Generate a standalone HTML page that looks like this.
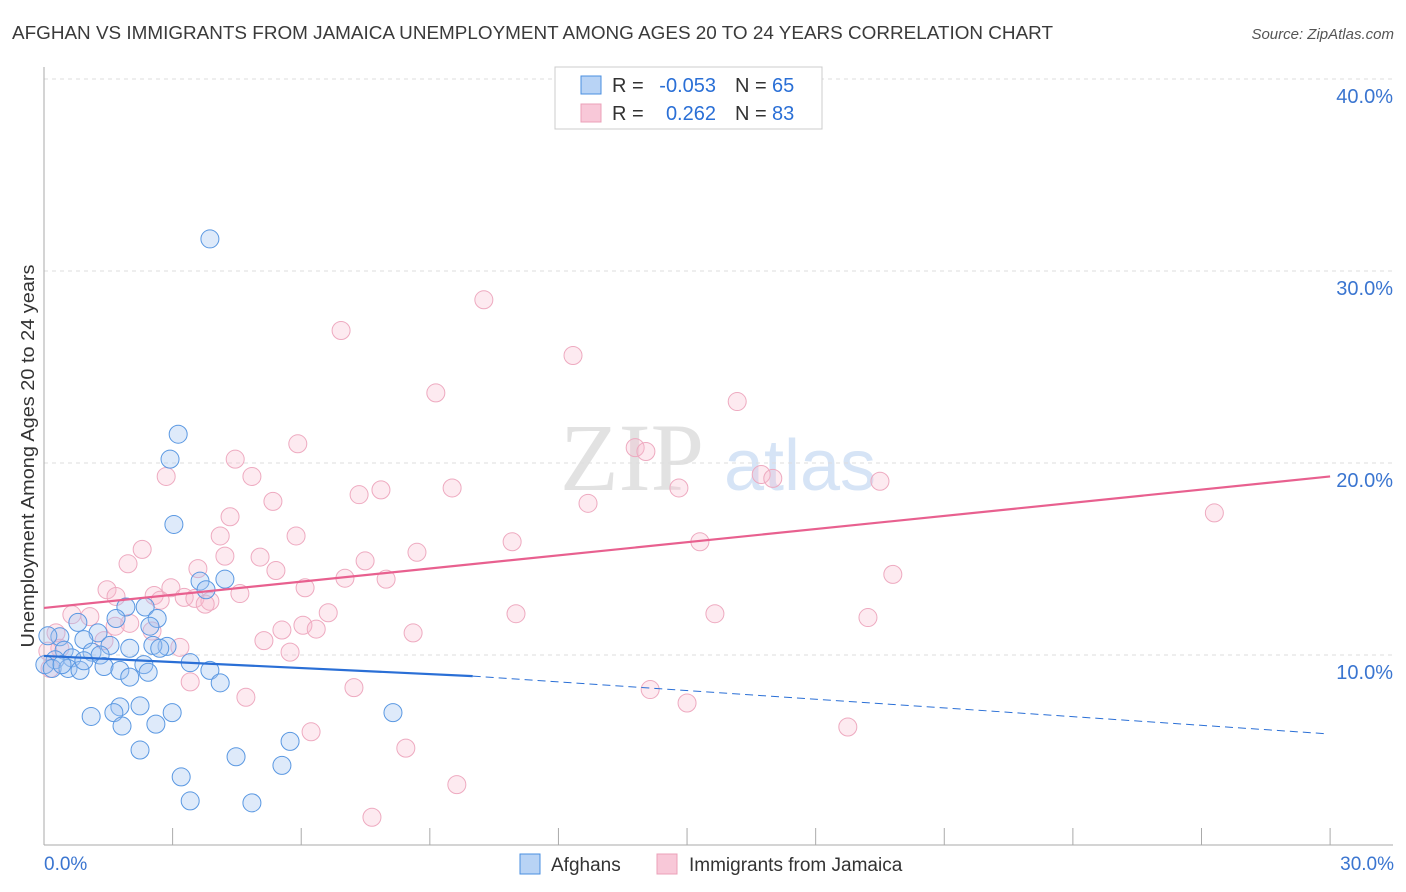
<!DOCTYPE html>
<html><head><meta charset="utf-8"><style>
body{margin:0;background:#fff;font-family:"Liberation Sans",sans-serif;}
svg{display:block}
</style></head><body>
<svg id="c" width="1406" height="892">
<text x="12" y="39" font-size="18.5" fill="#3a3a3a" textLength="1041" lengthAdjust="spacingAndGlyphs">AFGHAN VS IMMIGRANTS FROM JAMAICA UNEMPLOYMENT AMONG AGES 20 TO 24 YEARS CORRELATION CHART</text>
<text x="1394" y="39" font-size="15" fill="#555" font-style="italic" text-anchor="end">Source: ZipAtlas.com</text>
<text x="632" y="490" font-size="96" fill="#e2e2e2" font-family="Liberation Serif,serif" text-anchor="middle">ZIP</text>
<text x="800" y="490" font-size="72" fill="#d6e4f6" text-anchor="middle">atlas</text>
<text transform="translate(34,456) rotate(-90)" font-size="18" fill="#333" text-anchor="middle" textLength="383" lengthAdjust="spacingAndGlyphs">Unemployment Among Ages 20 to 24 years</text>
<g id="grid"></g><g id="pts"></g><g id="lines"></g>
<g>
<rect x="555" y="67" width="267" height="62" fill="#fff" stroke="#ccc"/>
<rect x="581" y="76" width="20" height="18" fill="#b8d3f5" stroke="#4a8fe0"/>
<rect x="581" y="104" width="20" height="18" fill="#f8c8d8" stroke="#eba0b8"/>
<text x="612" y="92" font-size="20" fill="#333">R =</text>
<text x="716" y="92" font-size="20" fill="#2a6fd6" text-anchor="end">-0.053</text>
<text x="735" y="92" font-size="20" fill="#333">N =</text>
<text x="772" y="92" font-size="20" fill="#2a6fd6">65</text>
<text x="612" y="120" font-size="20" fill="#333">R =</text>
<text x="716" y="120" font-size="20" fill="#2a6fd6" text-anchor="end">0.262</text>
<text x="735" y="120" font-size="20" fill="#333">N =</text>
<text x="772" y="120" font-size="20" fill="#2a6fd6">83</text>
</g>
<g>
<rect x="520" y="854" width="20" height="20" fill="#b8d3f5" stroke="#4a8fe0"/>
<text x="551" y="871" font-size="19" fill="#333">Afghans</text>
<rect x="657" y="854" width="20" height="20" fill="#f8c8d8" stroke="#eba0b8"/>
<text x="689" y="871" font-size="19" fill="#333">Immigrants from Jamaica</text>
</g>
</svg>
<script>
const yTicks=[10,20,30,40];
const yTickLabels=["10.0%","20.0%","30.0%","40.0%"];
const xTicks=[0,3,6,9,12,15,18,21,24,27,30];
const blueX=[3.87,3.13,2.94,3.03,3.64,4.22,3.78,1.91,2.36,1.68,2.64,2.47,0.79,1.26,0.93,0.37,0.09,1.54,2.0,2.87,2.54,1.12,1.31,0.47,0.65,0.26,0.02,0.19,0.56,0.84,1.4,1.77,2.33,2.43,3.41,3.87,2.0,4.11,1.1,1.77,2.24,1.63,1.82,2.61,2.99,2.24,4.48,5.74,5.55,3.2,3.41,4.85,8.14,0.42,0.93,2.7];
const blueY=[31.67,21.5,20.2,16.8,13.85,13.95,13.4,12.5,12.5,11.9,11.9,11.5,11.7,11.15,10.8,10.95,11.0,10.5,10.35,10.45,10.5,10.15,10.0,10.25,9.85,9.75,9.5,9.3,9.3,9.2,9.4,9.2,9.5,9.1,9.6,9.2,8.85,8.55,6.8,7.3,7.35,7.0,6.3,6.4,7.0,5.05,4.7,5.5,4.25,3.65,2.4,2.3,7.0,9.5,9.7,10.35];
const pinkX=[10.26,6.93,12.34,9.14,16.17,5.92,13.79,14.04,4.46,2.85,4.85,16.73,17.0,19.5,7.86,9.52,14.81,7.35,5.34,12.69,27.3,4.34,5.88,10.92,15.3,4.11,2.29,5.04,4.22,8.7,7.49,1.96,3.59,5.41,7.02,7.98,19.8,1.47,2.96,6.09,4.57,2.57,2.71,3.27,3.52,3.87,3.76,1.68,6.63,11.01,15.65,19.22,0.65,1.07,2.0,6.04,5.55,6.35,8.61,2.52,0.28,1.4,5.13,3.17,5.74,0.37,0.09,3.41,7.23,4.71,14.14,15.0,6.23,18.75,8.44,9.63,7.65,0.14,1.66];
const pinkY=[28.5,26.9,25.6,23.65,23.2,21.0,20.8,20.6,20.2,19.3,19.3,19.4,19.2,19.05,18.6,18.7,18.7,18.35,18.0,17.9,17.4,17.2,16.2,15.9,15.9,16.2,15.5,15.1,15.15,15.35,14.9,14.75,14.5,14.4,14.0,13.95,14.2,13.4,13.5,13.5,13.2,13.1,12.85,13.0,12.95,12.8,12.65,13.05,12.2,12.15,12.15,11.95,12.1,12.0,11.65,11.55,11.3,11.35,11.15,11.25,11.15,10.75,10.75,10.4,10.15,10.35,10.2,8.6,8.3,7.8,8.2,7.5,6.0,6.25,5.15,3.25,1.55,9.3,11.5];
const blueTrendX=[0,10,29.9];
const blueTrendY=[9.95,8.9,5.9];
const pinkTrendX=[0,30];
const pinkTrendY=[12.45,19.3];
const NS="http://www.w3.org/2000/svg";
const sx=v=>44+v*42.87, sy=v=>847-v*19.2;
function mk(t,a,p){const e=document.createElementNS(NS,t);for(const k in a)e.setAttribute(k,a[k]);p.appendChild(e);return e;}
const g=document.getElementById('grid'),P=document.getElementById('pts'),L=document.getElementById('lines');
yTicks.forEach((t,i)=>{
 const l=mk('line',{x1:44,x2:1393,y1:sy(t),y2:sy(t),stroke:'#ddd','stroke-dasharray':'4,4'},g);
 
 
 const tx=mk('text',{x:1393,y:sy(t)+24,'font-size':20,fill:'#3a75d0','text-anchor':'end'},g);tx.textContent=yTickLabels[i];
 
 
});
mk('line',{x1:44,x2:44,y1:67,y2:845,stroke:'#aaa'},g);
mk('line',{x1:44,x2:1393,y1:845,y2:845,stroke:'#aaa'},g);
xTicks.forEach(t=>{const l=mk('line',{x1:sx(t),x2:sx(t),y1:828,y2:845,stroke:'#aaa'},g);
 
 });
let a=mk('text',{x:44,y:870,'font-size':19,fill:'#3a75d0'},g);a.textContent='0.0%';


a=mk('text',{x:1394,y:870,'font-size':19,fill:'#3a75d0','text-anchor':'end'},g);a.textContent='30.0%';


pinkX.forEach((x,i)=>{const c=mk('circle',{cx:sx(x),cy:sy(pinkY[i]),r:9,fill:'rgba(248,185,205,0.3)',stroke:'#eeaac0','stroke-width':1},P);
 
 });
blueX.forEach((x,i)=>{const c=mk('circle',{cx:sx(x),cy:sy(blueY[i]),r:9,fill:'rgba(160,196,240,0.35)',stroke:'#5a98e2','stroke-width':1},P);
 
 });
let ln=mk('line',{x1:sx(pinkTrendX[0]),y1:sy(pinkTrendY[0]),x2:sx(pinkTrendX[1]),y2:sy(pinkTrendY[1]),stroke:'#e8608f','stroke-width':2.2},L);


ln=mk('line',{x1:sx(blueTrendX[0]),y1:sy(blueTrendY[0]),x2:sx(blueTrendX[1]),y2:sy(blueTrendY[1]),stroke:'#2a6fd6','stroke-width':2.2},L);


ln=mk('line',{x1:sx(blueTrendX[1]),y1:sy(blueTrendY[1]),x2:sx(blueTrendX[2]),y2:sy(blueTrendY[2]),stroke:'#2a6fd6','stroke-width':1,'stroke-dasharray':'8,5'},L);


</script>
</body></html>
